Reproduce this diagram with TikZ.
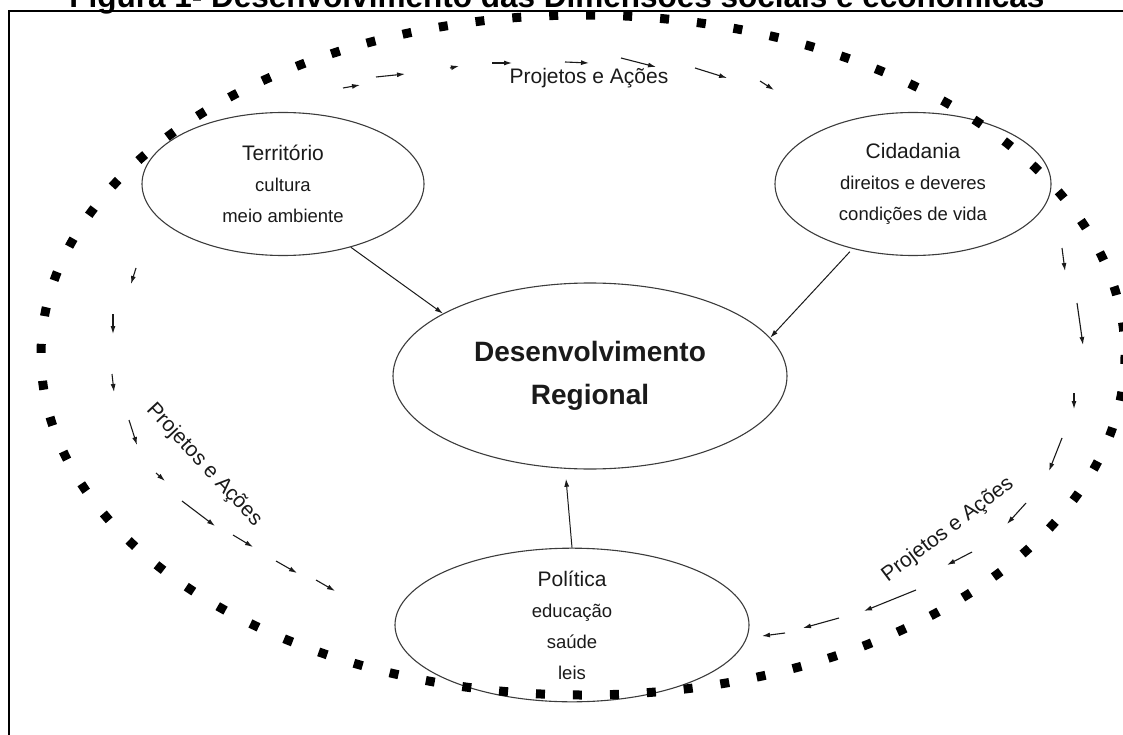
\documentclass[tikz,border=0pt]{standalone}
\usepackage{fontspec}
\setmainfont{Liberation Sans}
\usepackage{xcolor}
\usetikzlibrary{arrows.meta,shapes.geometric}
\definecolor{figInk}{HTML}{1a1a1a}
\definecolor{figLine}{HTML}{3c3c3c}

\begin{document}
\begin{tikzpicture}[x=1pt,y=-1pt,>={Latex[length=8pt,width=5pt]},
  bubble/.style={draw=figLine,line width=1.1pt,ellipse,inner sep=0pt,text=figInk,align=center,font=\fontsize{18.5}{31}\selectfont},
  flow/.style={->,line width=1.1pt,draw=figInk},
  feed/.style={->,line width=1pt,draw=figInk},
  tag/.style={text=figInk,font=\fontsize{21}{25}\selectfont,inner sep=0pt}]
\useasboundingbox (0,0) rectangle (1123,735);
% title and frame
\node[anchor=base,inner sep=0pt,font=\bfseries\fontsize{31.5}{36}\selectfont] (title) at (557,8) {Figura 1- Desenvolvimento das Dimensões sociais e econômicas};
\draw[line width=2.5pt] (9,760) -- (9,11) -- (1140,11);
% dimensions
\node[bubble,minimum width=282,minimum height=143] (ter) at (283,184) {{\fontsize{21}{31}\selectfont Território}\\cultura\\meio ambiente};
\node[bubble,minimum width=276,minimum height=143] (cid) at (913,184) {{\fontsize{21}{31}\selectfont Cidadania}\\direitos e deveres\\condições de vida};
\node[bubble,minimum width=394,minimum height=186,font=\bfseries\fontsize{28}{43}\selectfont] (des) at (590,376) {Desenvolvimento\\Regional};
\node[bubble,minimum width=354,minimum height=145] (pol) at (572,625) {{\fontsize{21}{31}\selectfont Política}\\educação\\saúde\\leis};
\draw[feed] (ter.-43) -- (des.157);
\draw[feed,shorten <=4pt] (cid.-133) -- (des.12);
\draw[feed,shorten >=10pt] (pol.north) -- (des.-105);
% ring of projects
\node[tag] (pTop) at (589,78) {Projetos e Ações};
\node[tag,rotate=-47] (pLeft) at (204,465) {Projetos e Ações};
\node[tag,rotate=37] (pRight) at (948,530) {Projetos e Ações};
\foreach \xa/\ya/\xb/\yb in {343/88/360/85,376/77/405/74,450/68/459/66,492/63/512/63,
  565/62/589/63,621/58/656/67,695/68/727/78,760/81/774/90,
  1062/248/1065/271,1077/303/1083/345,1074/393/1074/409,1062/438/1049/471,
  1026/503/1007/524,972/552/947/565,916/590/864/611,839/618/803/628,785/633/762/636,
  136/268/131/284,113/314/113/334,112/374/114/392,129/420/137/445,156/473/165/481,
  182/501/215/526,233/535/253/547,276/561/297/573,316/580/335/591}
  \draw[flow] (\xa,\ya) -- (\xb,\yb);
% outer dotted boundary
\draw[line width=9pt,dash pattern=on 9pt off 28pt] (583,355) ellipse [x radius=542,y radius=340];
\end{tikzpicture}
\end{document}
